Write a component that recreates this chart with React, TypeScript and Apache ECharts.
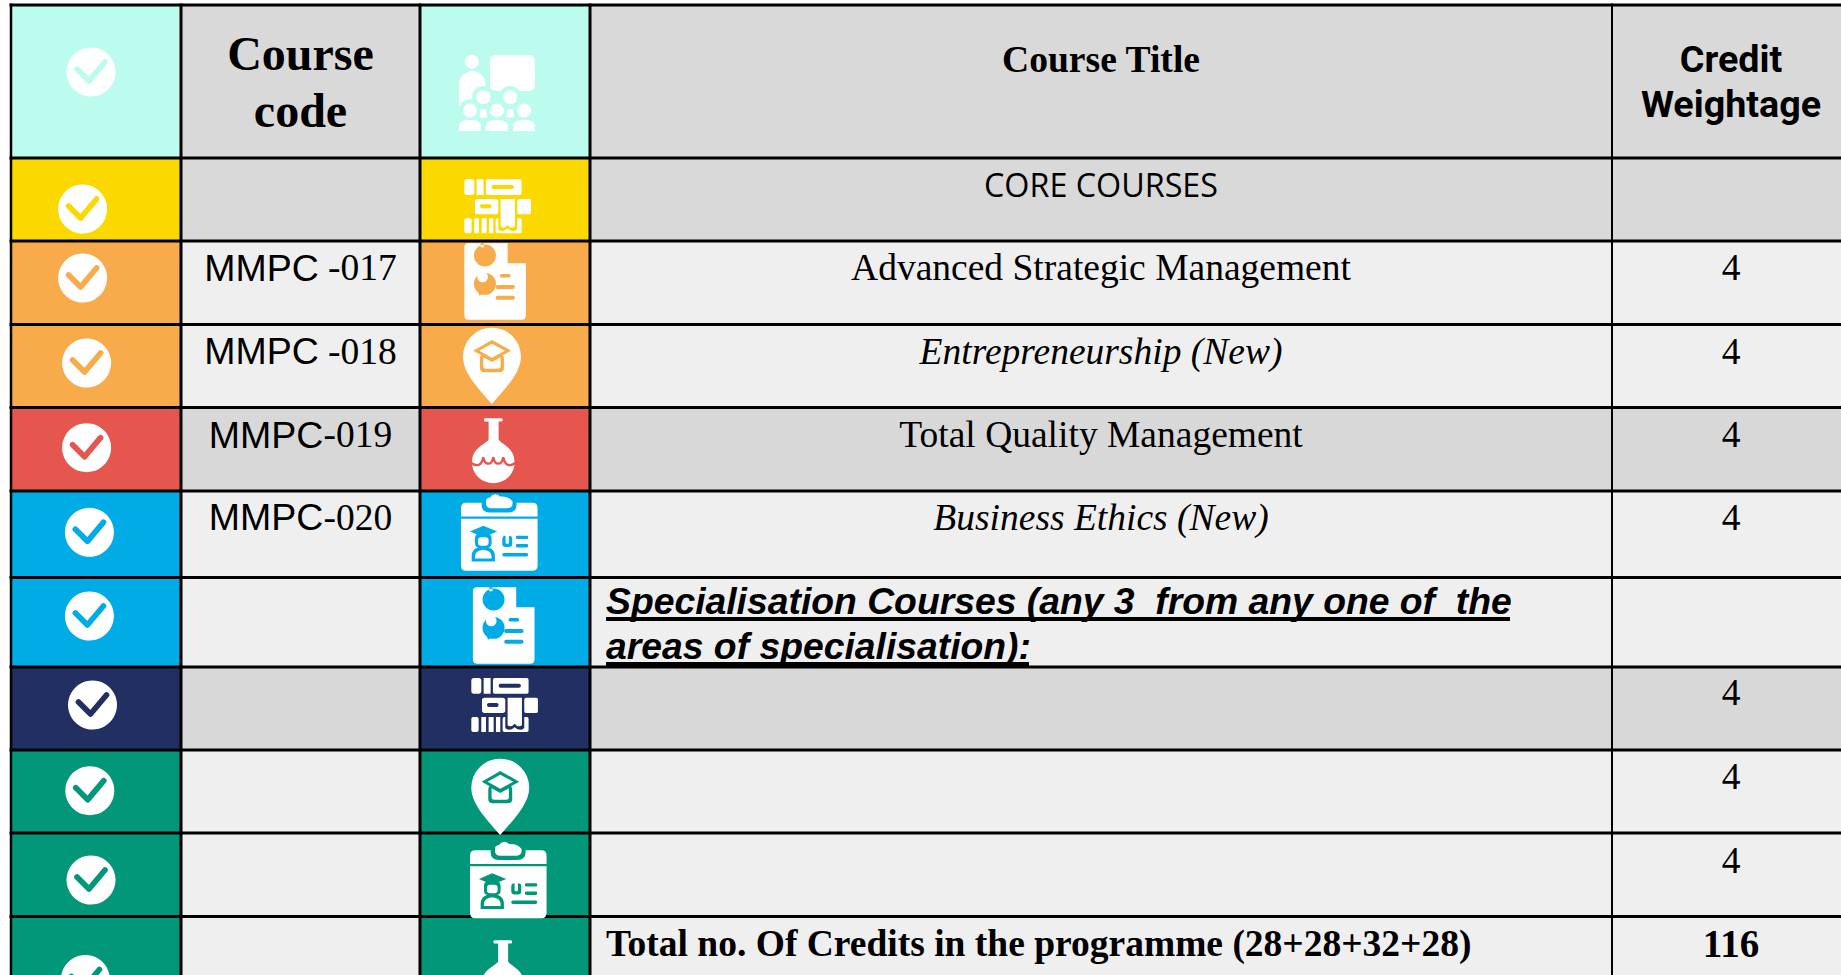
import React, { useEffect, useRef } from "react";
import * as echarts from "echarts";

const headerCode = ["Course", "code"];
const headerTitle = "Course Title";
const headerCredit = ["Credit", "Weightage"];
const courseCodes = ["", "MMPC -017", "MMPC -018", "MMPC-019", "MMPC-020", "", "", "", "", ""];
const courseTitles = ["CORE COURSES", "Advanced Strategic Management", "Entrepreneurship (New)", "Total Quality Management", "Business Ethics (New)"];
const specialisation = ["Specialisation Courses (any 3  from any one of  the", "areas of specialisation):"];
const totalTitle = "Total no. Of Credits in the programme (28+28+32+28)";
const credits = ["", "4", "4", "4", "4", "", "4", "4", "4", "116"];

const accentFills = ["#BBFCEE", "#FBD900", "#F7AB4A", "#F7AB4A", "#E4564E", "#01ACE6", "#01ACE6", "#222F62", "#039779", "#039779", "#039779"];
const bodyFills = ["#D9D9D9", "#D9D9D9", "#EFEFEF", "#EFEFEF", "#D8D8D8", "#EFEFEF", "#EFEFEF", "#D8D8D8", "#EFEFEF", "#EFEFEF", "#EFEFEF"];

const colEdges = [11, 181, 420, 590, 1612, 1841];
const rowEdges = [5, 158, 241, 324.5, 407.5, 491, 577.5, 667, 750, 833, 916.5, 975];
const checkCenters = [[91, 72], [82.6, 209], [82.6, 278], [86.6, 363], [86.6, 447.7], [89.4, 532.3], [89.4, 616], [92.5, 705], [89.8, 790.7], [91, 880], [85.4, 979.5]];

const c = (x: number, y: number, r: number) => `M${x - r} ${y}a${r} ${r} 0 1 0 ${2 * r} 0a${r} ${r} 0 1 0 ${-2 * r} 0Z`;
const rr = (x: number, y: number, w: number, h: number, r: number) =>
  `M${x + r} ${y}H${x + w - r}Q${x + w} ${y} ${x + w} ${y + r}V${y + h - r}Q${x + w} ${y + h} ${x + w - r} ${y + h}H${x + r}Q${x} ${y + h} ${x} ${y + h - r}V${y + r}Q${x} ${y} ${x + r} ${y}Z`;

type Layer = { name: string; white: boolean; d: string; stroke?: number };
const ICONS: Record<string, { ox: number; oy: number; layers: Layer[] }> = {
  audience: {
    ox: 440, oy: 40, layers: [
      { name: "aud1", white: true, d: rr(150, 45, 135, 108, 18) + c(96, 65, 21) + "M57 212V135Q57 100 97 92Q137 100 137 135V205H57Z" },
      { name: "aud2", white: false, d: c(130, 172, 34) + c(211, 172, 34) + c(90, 212, 34) + c(171, 212, 34) + c(253, 212, 34) },
      {
        name: "aud3", white: true, d: c(130, 172, 21) + c(211, 172, 21) + c(90, 212, 21) + c(171, 212, 21) + c(253, 212, 21) +
          "M122 208H138L142 233H118Z" + "M203 208H219L223 233H199Z" +
          "M57 273V258Q57 240 90 240Q123 240 123 258V273Z" + "M137 273V258Q137 240 170 240Q204 240 204 258V273Z" + "M219 273V258Q219 240 252 240Q285 240 285 258V273Z"
      },
    ]
  },
  shelf: {
    ox: 440, oy: 170, layers: [
      {
        name: "shf1", white: true, d: rr(73, 28, 30, 47, 8) + "M110 28H131V75H110Z" + rr(138, 28, 107, 47, 5) + rr(105, 87, 70, 46, 8) + rr(232, 87, 41, 46, 5) +
          rr(73, 145, 22, 45, 6) + "M103 145H117V190H103Z" + "M125 145H140V190H125Z" + "M147 145H160V190H147Z" + rr(167, 145, 78, 45, 5)
      },
      { name: "shf2", white: false, d: rr(155, 45, 67, 12, 6) + rr(120, 103, 35, 12, 6) + "M175 133H232V178Q220 190 203 176Q188 190 175 178Z" },
      { name: "shf3", white: true, d: "M182 87H225V170Q214 178 203 165Q192 178 182 170Z" },
    ]
  },
  doc: {
    ox: 440, oy: 170, layers: [
      { name: "doc1", white: true, d: "M85 220H203V280H258V436Q258 450 244 450H87Q73 450 73 436V232Q73 220 85 220Z" },
      { name: "doc2", white: false, d: c(135, 257, 33) + "M122 220H132V232H122Z" + c(135, 342, 33) + "M115 365L118 378L132 370Z" + rr(180, 312, 32, 11, 5) + rr(167, 345, 58, 12, 6) + rr(167, 378, 58, 12, 6) },
      { name: "doc3", white: true, d: c(128, 321, 16) },
    ]
  },
  pin: {
    ox: 440, oy: 330, layers: [
      { name: "pin1", white: true, d: "M156 222C120 180 69 130 69 80A87 87 0 0 1 243 80C243 130 192 180 156 222Z" },
      { name: "pin2", white: false, d: rr(120, 72, 72, 55, 14) + "M100 62L156 30L213 62L156 94Z" },
      { name: "pin3", white: true, d: "M118 62L156 41L195 62L156 83Z" + "M130 82L156 96L182 82V108Q182 116 174 116H138Q130 116 130 108Z" },
    ]
  },
  flask: {
    ox: 440, oy: 330, layers: [
      { name: "flk1", white: true, d: rr(132, 265, 56, 10, 4) + "M146 275H176V328C180 342 224 350 224 398A64 62 0 0 1 96 398C96 350 142 342 146 328Z" },
      { name: "flk2", white: false, stroke: 7, d: "M92 398C110 412 125 408 130 382C135 408 155 408 160 382C165 408 185 408 190 382C195 408 210 412 228 398" },
    ]
  },
  card: {
    ox: 440, oy: 330, layers: [
      { name: "crd1", white: true, d: "M63 560V535Q63 519 79 519H277Q293 519 293 535V560Z" + "M63 567H293V707Q293 723 277 723H79Q63 723 63 707Z" },
      {
        name: "crd2", white: false, d: "M125 515H230V525Q230 548 205 548H150Q125 548 125 525Z" + "M90 605L130 588L172 605L130 622Z" + rr(105, 612, 50, 42, 14) +
          "M95 695V680Q95 652 130 650Q165 652 165 680V695Z" + rr(187, 618, 30, 34, 10) + rr(228, 618, 37, 10, 4) + rr(228, 643, 37, 10, 4) + rr(187, 670, 78, 10, 5)
      },
      {
        name: "crd3", white: true, d: "M138 515Q138 505 150 503Q165 485 180 500Q205 498 218 515V520Q218 535 200 535H155Q138 535 138 520Z" +
          rr(114, 622, 32, 26, 10) + "M105 686V680Q106 662 130 660Q154 662 155 680V686Z" + rr(197, 612, 10, 30, 4)
      },
    ]
  },
};
Object.values(ICONS).forEach((icon) =>
  icon.layers.forEach((l) => echarts.graphic.registerShape(l.name, echarts.graphic.extendPath(l.d, {}) as any)));

const iconPlaces: [string, number, number, number][] = [
  ["audience", 0, 0, 0], ["shelf", 1, 0, 0], ["doc", 2, 0, 0], ["pin", 3, 0, 0], ["flask", 4, 0, 0], ["card", 5, 0, 0],
  ["doc", 6, 8.6, 344], ["shelf", 7, 7, 498.7], ["pin", 8, 8.3, 431], ["card", 9, 9, 347.5], ["flask", 10, 9.5, 522],
];

const SERIF = "Liberation Serif";
const SANS = "Liberation Sans";
type Lbl = { text: string; x: number; base: number; size: number; family: string; weight?: string; italic?: boolean; align?: string; code?: boolean };
const codeBases = [280.5, 364, 447.5, 530];
const titleBases = [194.5, 280.5, 364, 447.5, 530];
const creditBases = [280.5, 364, 447.5, 530];
const lowerCreditBases = [705.5, 789.5, 873];
const labels: Lbl[] = [
  { text: headerCode[0], x: 300.5, base: 70, size: 48, family: SERIF, weight: "bold" },
  { text: headerCode[1], x: 300.5, base: 127, size: 48, family: SERIF, weight: "bold" },
  { text: headerTitle, x: 1101, base: 72, size: 37.6, family: SERIF, weight: "bold" },
  { text: headerCredit[0], x: 1731, base: 72, size: 37.7, family: "Roboto", weight: "bold" },
  { text: headerCredit[1], x: 1731, base: 117, size: 37.7, family: "Roboto", weight: "bold" },
  { text: courseTitles[0], x: 1101, base: titleBases[0], size: 32.3, family: "Open Sans" },
  ...courseCodes.slice(1, 5).map((t, i) => ({ text: t, x: 300.5, base: codeBases[i], size: 37.5, family: SANS, code: true })),
  ...courseTitles.slice(1).map((t, i) => ({ text: t, x: 1101, base: titleBases[i + 1], size: 37.5, family: SERIF, italic: i === 1 || i === 3 })),
  ...credits.slice(1, 5).map((t, i) => ({ text: t, x: 1731, base: creditBases[i], size: 37.5, family: SERIF })),
  { text: specialisation[0], x: 606, base: 614, size: 37.3, family: SANS, weight: "bold", italic: true, align: "left" },
  { text: specialisation[1], x: 606, base: 659, size: 37.3, family: SANS, weight: "bold", italic: true, align: "left" },
  ...credits.slice(6, 9).map((t, i) => ({ text: t, x: 1731, base: lowerCreditBases[i], size: 37.5, family: SERIF })),
  { text: totalTitle, x: 606, base: 956.7, size: 37.5, family: SERIF, weight: "bold", align: "left" },
  { text: credits[9], x: 1731, base: 956.7, size: 39, family: SERIF, weight: "bold" },
];
const underlines = [[606, 1510, 619], [606, 1029, 664]];

export default function App() {
  const ref = useRef<HTMLDivElement>(null);
  useEffect(() => {
    document.body.style.margin = "0";
    const chart = echarts.init(ref.current!, null, { renderer: "svg" });

    const cellData: number[][] = [];
    accentFills.forEach((_, r) => [0, 1, 2, 3, 4].forEach((col) => cellData.push([col, r])));

    const lineData: number[][] = [
      ...rowEdges.slice(0, -1).map((y) => [colEdges[0] - 1.5, y, 1841, 3]),
      ...[[colEdges[0], 2.5], [colEdges[1], 3], [colEdges[2], 3], [colEdges[3], 3], [colEdges[4], 2]].map(([x, w]) => [x, 3.5, w, 0]),
    ];

    chart.setOption({
      animation: false,
      backgroundColor: "#ffffff",
      tooltip: { show: false },
      grid: { left: 0, right: 0, top: 0, bottom: 0 },
      xAxis: { type: "value", min: 0, max: 1841, show: false },
      yAxis: { type: "value", min: 0, max: 975, inverse: true, show: false },
      series: [
        {
          type: "custom", silent: true, clip: false, z: 1, data: cellData, encode: { x: 0, y: 1 },
          renderItem: (_: any, api: any) => {
            const col = api.value(0), row = api.value(1);
            const a = api.coord([colEdges[col], rowEdges[row]]);
            const b = api.coord([colEdges[col + 1], rowEdges[row + 1]]);
            const fill = col === 0 || col === 2 ? accentFills[row] : bodyFills[row];
            return { type: "rect", shape: { x: a[0], y: a[1], width: b[0] - a[0], height: b[1] - a[1] }, style: { fill } };
          },
        },
        {
          type: "custom", silent: true, clip: false, z: 2, data: lineData, encode: { x: 0, y: 1 },
          renderItem: (_: any, api: any) => {
            const p = api.value(0), q = api.value(1), r = api.value(2), w = api.value(3);
            if (w > 0) {
              const a = api.coord([p, q - w / 2]);
              const b = api.coord([r, q + w / 2]);
              return { type: "rect", shape: { x: a[0], y: a[1], width: b[0] - a[0], height: b[1] - a[1] }, style: { fill: "#000000" } };
            }
            const a = api.coord([p - r / 2, q]);
            const b = api.coord([p + r / 2, 975]);
            return { type: "rect", shape: { x: a[0], y: a[1], width: b[0] - a[0], height: b[1] - a[1] }, style: { fill: "#000000" } };
          },
        },
        {
          type: "custom", silent: true, clip: false, z: 3, data: checkCenters, encode: { x: 0, y: 1 },
          renderItem: (p: any, api: any) => {
            const o = api.coord([api.value(0), api.value(1)]);
            const colr = accentFills[p.dataIndex];
            return {
              type: "group", x: o[0], y: o[1], children: [
                { type: "circle", shape: { cx: 0, cy: 0, r: 24.5 }, style: { fill: "#ffffff" } },
                { type: "polyline", shape: { points: [[-14, -3], [-2, 9], [14, -10]] }, style: { fill: "none", stroke: colr, lineWidth: 5.7, lineCap: "round", lineJoin: "round" } },
              ]
            };
          },
        },
        {
          type: "custom", silent: true, clip: false, z: 3, data: iconPlaces.map(([, r, dx, dy]) => [dx, dy, r]), encode: { x: 0, y: 1 },
          renderItem: (p: any, api: any) => {
            const place = iconPlaces[p.dataIndex];
            const icon = ICONS[place[0]];
            const bg = accentFills[place[1]];
            const o = api.coord([icon.ox + api.value(0), icon.oy + api.value(1)]);
            return {
              type: "group", x: o[0], y: o[1], scaleX: 1 / 3, scaleY: 1 / 3,
              children: icon.layers.map((l) => ({
                type: l.name,
                style: l.stroke
                  ? { fill: "none", stroke: bg, lineWidth: l.stroke, lineCap: "round" }
                  : { fill: l.white ? "#ffffff" : bg },
              })),
            };
          },
        },
        {
          type: "custom", silent: true, clip: false, z: 4, data: labels.map((l) => [l.x, l.base]), encode: { x: 0, y: 1 },
          renderItem: (p: any, api: any) => {
            const l = labels[p.dataIndex];
            const o = api.coord([api.value(0), api.value(1) - l.size * 0.34]);
            const common: any = {
              fontSize: l.size, fontFamily: l.family, fontWeight: l.weight || "normal", fontStyle: l.italic ? "italic" : "normal",
              fill: "#000000", textAlign: l.align || "center", textVerticalAlign: "middle",
            };
            if (l.code) {
              const m = l.text.indexOf("-");
              const sans = l.text.slice(0, m).trimEnd();
              const serif = l.text.slice(sans.length);
              return {
                type: "text", x: o[0], y: o[1], style: {
                  ...common, text: `{a|${sans}}{b|${serif}}`,
                  rich: { a: { fontFamily: SANS, fontSize: l.size, fill: "#000000" }, b: { fontFamily: SERIF, fontSize: l.size, fill: "#000000" } },
                }
              };
            }
            return { type: "text", x: o[0], y: o[1], style: { ...common, text: l.text } };
          },
        },
        {
          type: "custom", silent: true, clip: false, z: 4, data: underlines, encode: { x: 0, y: 2 },
          renderItem: (_: any, api: any) => {
            const a = api.coord([api.value(0), api.value(2) - 2]);
            const b = api.coord([api.value(1), api.value(2) + 2]);
            return { type: "rect", shape: { x: a[0], y: a[1], width: b[0] - a[0], height: b[1] - a[1] }, style: { fill: "#000000" } };
          },
        },
      ],
    });
    return () => chart.dispose();
  }, []);
  return <div ref={ref} style={{ width: 1841, height: 975 }} />;
}
